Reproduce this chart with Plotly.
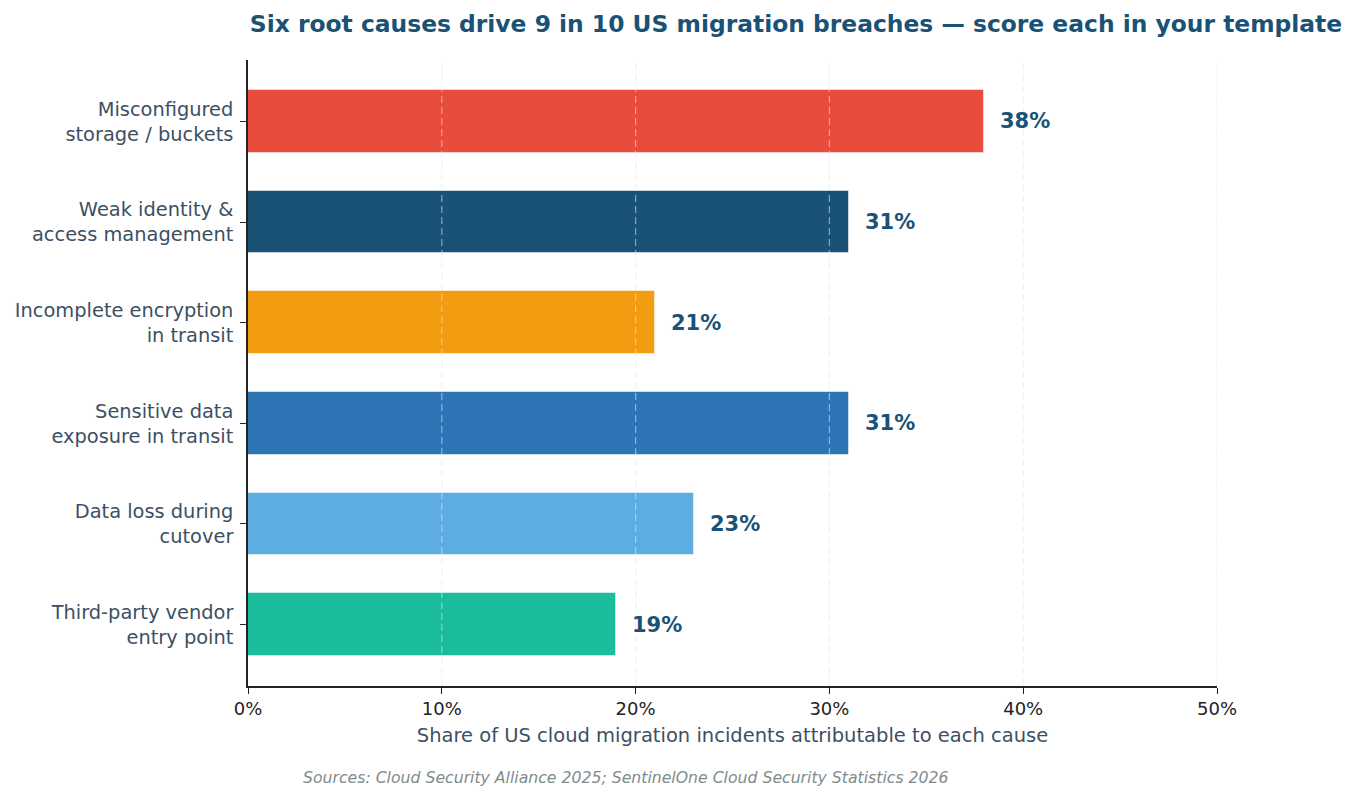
import plotly.graph_objects as go

categories = [
    "Misconfigured<br>storage / buckets",
    "Weak identity &<br>access management",
    "Incomplete encryption<br>in transit",
    "Sensitive data<br>exposure in transit",
    "Data loss during<br>cutover",
    "Third-party vendor<br>entry point",
]
values = [38, 31, 21, 31, 23, 19]
colors = ["#e74c3c", "#1a5276", "#f39c12", "#2e75b6", "#5dade2", "#1abc9c"]
x_ticks = [0, 10, 20, 30, 40, 50]
x_tick_labels = ["0%", "10%", "20%", "30%", "40%", "50%"]

title = "Six root causes drive 9 in 10 US migration breaches — score each in your template"
x_title = "Share of US cloud migration incidents attributable to each cause"
source = "Sources: Cloud Security Alliance 2025; SentinelOne Cloud Security Statistics 2026"

FONT = "DejaVu Sans"

fig = go.Figure()
fig.add_trace(go.Bar(
    x=values,
    y=categories,
    orientation="h",
    width=0.625,
    marker=dict(color=colors, line=dict(color="rgba(255,255,255,0.5)", width=1)),
    hoverinfo="x+y",
))

# dashed gridlines drawn above the bars
for t in x_ticks[1:]:
    fig.add_shape(type="line", xref="x", yref="paper", x0=t, x1=t, y0=0, y1=1,
                  line=dict(color="rgba(225,230,242,0.55)", width=1.2, dash="7px,4px"),
                  layer="above")

for v, c in zip(values, categories):
    fig.add_annotation(x=v, y=c, text=f"{v}%", showarrow=False, xanchor="left",
                       xshift=14, font=dict(family=FONT, size=21, color="#1a5276", weight="bold"))

fig.add_annotation(xref="paper", yref="paper", x=0.39, y=-0.146, text=source,
                   showarrow=False, xanchor="center", yanchor="middle",
                   font=dict(family=FONT, size=15.7, color="#7f8c8d", style="italic"))

fig.update_layout(
    width=1358, height=800,
    margin=dict(l=248, r=141, t=60, b=114),
    plot_bgcolor="white", paper_bgcolor="white",
    showlegend=False,
    bargap=0,
    title=dict(text=f"<b>{title}</b>", x=796 / 1358, xanchor="center", xref="container",
               y=1 - 24 / 800, yanchor="middle", yref="container",
               font=dict(family=FONT, size=23.4, color="#1a5276")),
    font=dict(family=FONT),
)
fig.update_xaxes(
    range=[0, 50], tickvals=x_ticks, ticktext=x_tick_labels,
    showgrid=False, zeroline=False,
    showline=True, linecolor="#222", linewidth=1.5,
    ticks="outside", ticklen=6, tickwidth=1.2, tickcolor="#222",
    tickfont=dict(family=FONT, size=18, color="#222"),
    title=dict(text=x_title, standoff=10, font=dict(family=FONT, size=19.5, color="#3d4f63")),
)
fig.update_yaxes(
    range=[5.61, -0.61],
    showgrid=False, zeroline=False,
    showline=True, linecolor="#222", linewidth=1.5,
    ticks="outside", ticklen=6, tickwidth=1.2, tickcolor="#222",
    ticklabelstandoff=3,
    tickfont=dict(family=FONT, size=19.4, color="#3d4f63"),
)

fig.write_html("out.html")
